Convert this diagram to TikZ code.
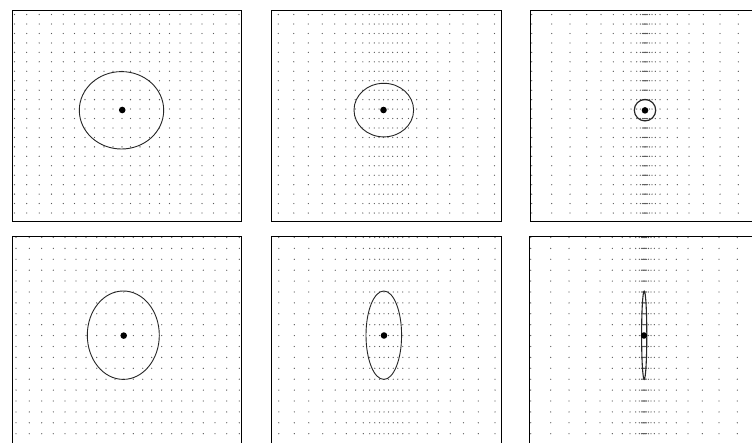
\documentclass[tikz,border=0pt]{standalone}
\begin{document}
\begin{tikzpicture}[x=1pt,y=-1pt,
  griddot/.style={fill=black!65},
  panel/.style={draw=black, line width=0.9pt},
  metric/.style={draw=black!85, line width=0.9pt},
  pivot/.style={circle, fill=black, inner sep=0pt, minimum size=6.6pt}]
\useasboundingbox (0,0) rectangle (752,443);
\clip (0,0) rectangle (752,443);
\fill[white] (0,0) rectangle (752,443);
% ---------- grid dots, top row ----------
\foreach \k in {0,...,21}{
  \foreach \x in {14.5,26.7,39.2,51.5,63.3,74.5,85,94.5,104,113,122,130.5,140,149.5,159.5,169.5,180,191,202,213.5,226,239}
    \fill[griddot] (\x,{14.6+9.45*\k}) circle (0.65pt);
  \foreach \x in {278.3,293.8,308.3,322.2,334.7,345.8,355.2,362.8,369.2,374.3,379,383.5,388,392.7,397.3,402.3,408.5,416.7,426.7,437.8,449.7,463,477.8,494.5}
    \fill[griddot] (\x,{14.6+9.45*\k}) circle (0.65pt);
  \foreach \x in {531.7,551.7,570,586.7,601,613.3,623.3,631,636.7,640.3,642.4,643.6,644.4,645,645.6,646.4,647.6,649.5,652,655.3,660,667.3,677.3,689,703.3,720,738.3,757}
    \fill[griddot] (\x,{14.6+9.45*\k}) circle (0.65pt);
}
% ---------- grid dots, bottom row ----------
\foreach \k in {0,...,19}{
  \foreach \x in {16,29.3,41.7,53.3,65,76,86,96.7,106,115,123.8,133.3,142.7,151.7,161.7,171.7,181.7,192.7,203.3,215,226.7,239.3}
    \fill[griddot] (\x,{237.5+10.9*\k}) circle (0.65pt);
  \foreach \x in {278.8,294.3,308.8,322.7,335.2,346.3,355.7,363.3,369.7,374.8,379.5,384,388.5,393.2,397.8,402.8,409,417.2,427.2,438.3,450.2,463.5,478.3,495}
    \fill[griddot] (\x,{237.5+10.9*\k}) circle (0.65pt);
  \foreach \x in {530.7,550.7,569,585.7,600,612.3,622.3,630,635.7,639.3,641.4,642.6,643.4,644,644.6,645.4,646.6,648.5,651,654.3,659,666.3,676.3,688,702.3,719,737.3,756}
    \fill[griddot] (\x,{237.5+10.9*\k}) circle (0.65pt);
}
% ---------- panel frames ----------
\draw[panel] (12,10) rectangle (241,221);
\draw[panel] (271,10) rectangle (501,221);
\draw[panel] (530,10) rectangle (759,221);
\draw[panel] (12.5,236) rectangle (241.5,447);
\draw[panel] (271,236) rectangle (501,447);
\draw[panel] (529.5,236) rectangle (758.5,447);
% ---------- metric ellipses ----------
\draw[metric] (121.5,110.3) ellipse [x radius=42.2pt, y radius=38.7pt];
\draw[metric] (383.8,110.1) ellipse [x radius=29.8pt, y radius=26.8pt];
\draw[metric, line width=1.2pt] (645,110.2) circle (10.7pt);
\draw[metric] (123.3,335.2) ellipse [x radius=36pt, y radius=44.2pt];
\draw[metric] (383.8,335.2) ellipse [x radius=17.8pt, y radius=44.2pt];
\draw[metric, line width=1.1pt] (644.2,335.2) ellipse [x radius=2.6pt, y radius=44pt];
% ---------- centre points ----------
\node[pivot] (c1) at (122.2,110) {};
\node[pivot] (c2) at (383.5,110) {};
\node[pivot] (c3) at (645,110.4) {};
\node[pivot] (c4) at (123.7,335.6) {};
\node[pivot] (c5) at (384,335.5) {};
\node[pivot] (c6) at (644,335.5) {};
\end{tikzpicture}
\end{document}
